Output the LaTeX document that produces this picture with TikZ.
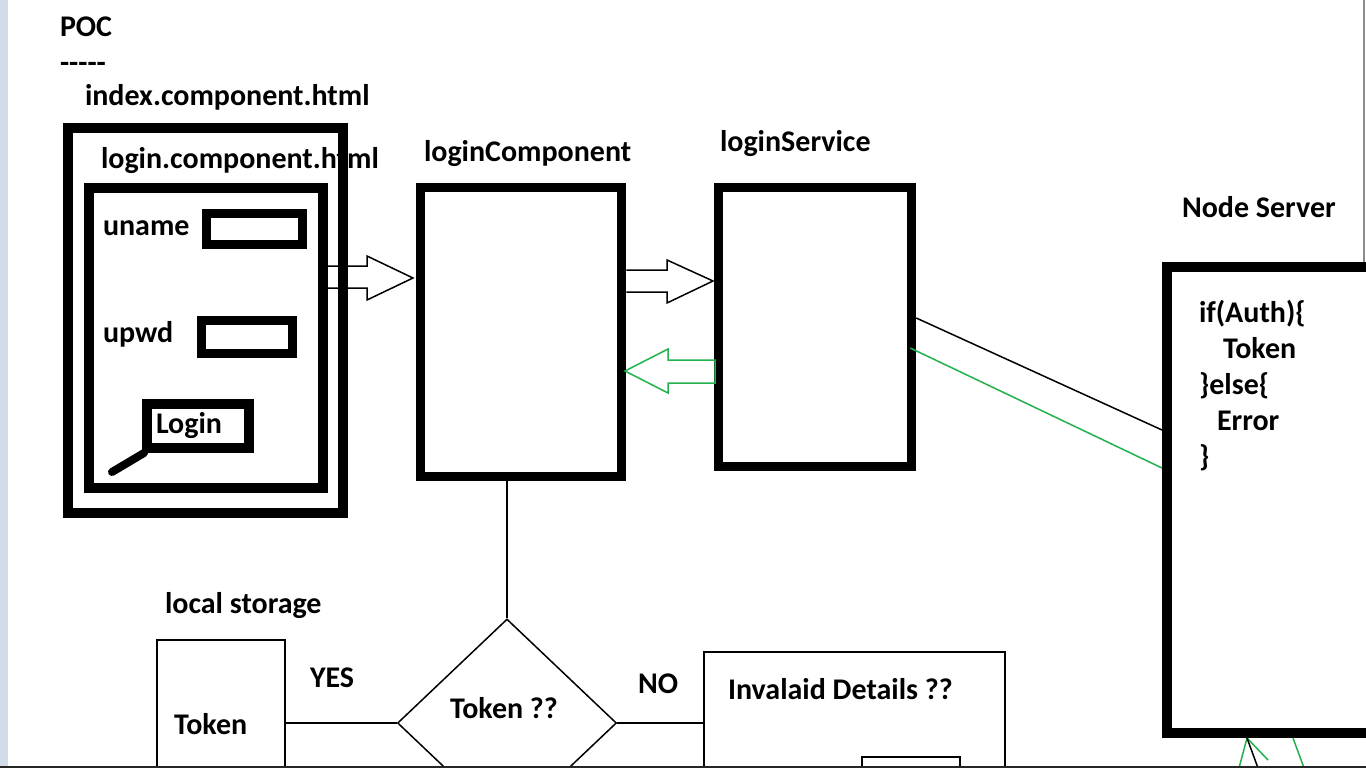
\documentclass[tikz,border=0pt]{standalone}
\usepackage{fontspec}
\setmainfont{Carlito}
\usetikzlibrary{shapes.geometric,calc}
\definecolor{pgreen}{RGB}{34,177,76}
\definecolor{strip}{RGB}{210,219,234}
\begin{document}
\begin{tikzpicture}[x=1pt,y=-1pt,
  txt/.style={anchor=base west,inner sep=0pt,outer sep=0pt,font=\bfseries\fontsize{30}{32}\selectfont},
  heavybox/.style={draw,line width=10pt,inner sep=0pt,fill=none},
  midbox/.style={draw,line width=9pt,inner sep=0pt},
  thinbox/.style={draw,line width=1.5pt,inner sep=0pt},
  thinline/.style={line width=1.5pt},
  greenline/.style={draw=pgreen,line width=1.5pt}]
\useasboundingbox (0,0) rectangle (1366,768);
\clip (0,0) rectangle (1366,768);
\fill[white] (0,0) rectangle (1366,768);
\fill[strip] (0,0) rectangle (8,768);

% texts
\node[txt] (poc) at (60,37) {POC};
\node[txt] (dash) at (60,73) {{-}{-}{-}{-}{-}};
\node[txt] (idx) at (85,106) {index.component.html};
\node[txt] (lch) at (101,168) {login.component.html};
\node[txt] (un) at (103,235) {uname};
\node[txt] (up) at (103,342) {upwd};
\node[txt] (lctxt) at (424,161) {loginComponent};
\node[txt] (lstxt) at (720,151) {loginService};
\node[txt] (nstxt) at (1182,217) {Node Server};
\node[txt] (c1) at (1199,322) {if(Auth)\{};
\node[txt] (c2) at (1223,358) {Token};
\node[txt] (c3) at (1199,394) {\}else\{};
\node[txt] (c4) at (1217,430) {Error};
\node[txt] (c5) at (1199,466) {\}};
\node[txt] (lstor) at (165,613) {local storage};
\node[txt] (yes) at (310,687) {YES};
\node[txt] (no) at (638,693) {NO};
\node[txt] (tq) at (450,718) {Token ??};
\node[txt] (tk) at (174,734) {Token};
\node[txt] (inv) at (728,699) {Invalaid Details ??};

% boxes
\node[heavybox,minimum width=275pt,minimum height=385pt] (ob) at (205.5,320.5) {};
\node[heavybox,minimum width=234pt,minimum height=300pt] (ib) at (206,338) {};
\node[midbox,minimum width=96pt,minimum height=31pt] (uf) at (254.5,229) {};
\node[midbox,minimum width=91pt,minimum height=33pt] (pf) at (247,337) {};
\node[heavybox,minimum width=102pt,minimum height=44pt] (lb) at (198,426) {};
\node[txt] (lbt) at (156,433) {Login};
\draw[line width=8pt,line cap=round] (lb.south west) ++(2,0) coordinate (h1) -- (112,472) coordinate (h2);

\node[midbox,minimum width=201.5pt,minimum height=289pt] (lc) at (521,332) {};
\node[midbox,minimum width=193.5pt,minimum height=279pt] (ls) at (815,326.5) {};
\node[heavybox,minimum width=212pt,minimum height=466pt] (ns) at (1273,500) {};

\node[thinbox,minimum width=128pt,minimum height=170pt] (tb) at (221,725) {};
\node[draw,line width=1.5pt,diamond,inner sep=0pt,minimum width=219pt,minimum height=208pt] (dm) at (507,723) {};
\node[thinbox,minimum width=301pt,minimum height=170pt] (iv) at (854.5,737) {};
\node[thinbox,minimum width=98pt,minimum height=40pt] (sb) at (911,777) {};

% hollow block arrows
\draw[thinline,line join=miter] (ib.east |- 0,266) -- (367,266) -- (367,256) -- (413,278) -- (367,300) -- (367,288) -- (ib.east |- 0,288);
\draw[thinline,line join=miter] (lc.east |- 0,270) -- (667,270) -- (667,260) -- (713,281) -- (667,303) -- (667,292) -- (lc.east |- 0,292);
\draw[greenline,line join=miter] (715,360) -- (668,360) -- (668,349) -- (625,371) -- (668,393) -- (668,383) -- (715,383) -- cycle;

% connectors
\draw[thinline] (dm.north |- lc.south) -- (dm.north);
\draw[thinline] (dm.west -| tb.east) -- (dm.west);
\draw[thinline] (dm.east) -- (dm.east -| iv.west);
\draw[thinline] ([yshift=8.5pt]ls.east) -- ([yshift=70pt]ns.west);
\draw[greenline] ([xshift=-6pt,yshift=-21.5pt]ls.east) -- ([yshift=32pt]ns.west);

% lines below node server
\coordinate (b0) at ([xshift=-26pt]ns.south);
\coordinate (e1) at (1239,768);
\coordinate (e2) at (1258,768);
\coordinate (e3) at (1268,760);
\coordinate (b4) at ([xshift=20pt]ns.south);
\coordinate (e4) at (1304,768);
\draw[greenline] (b0) -- (e1);
\draw[greenline] (b0) -- (e3);
\draw[thinline] (b0) -- (e2);
\draw[greenline] (b4) -- (e4);

% window edges
\draw[line width=1.5pt,black!45] (1364,0) -- (1364,262);
\draw[line width=2pt,black!85] (0,767) -- (1366,767);
\end{tikzpicture}
\end{document}
